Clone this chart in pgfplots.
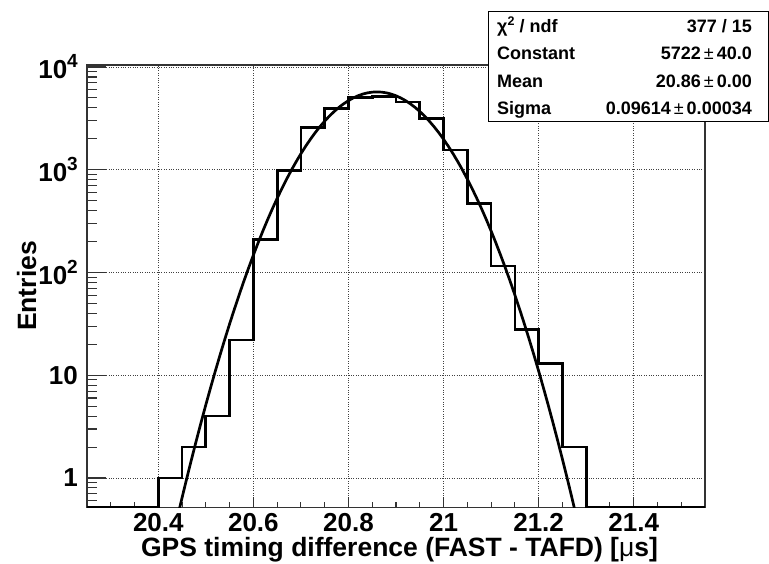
\documentclass[border=0pt]{standalone}
\usepackage{pgfplots}
\pgfplotsset{compat=1.18}
\usepackage{fontspec}
\setmainfont{Liberation Sans}
\newcommand{\sups}[1]{\raisebox{0.42em}{\fontsize{19}{19}\selectfont #1}}
\pgfplotstableread{
x y
20.25 0.516
20.30 0.516
20.35 0.516
20.40 1
20.45 2
20.50 4
20.55 22
20.60 210
20.65 980
20.70 2570
20.75 3960
20.80 5050
20.85 5200
20.90 4550
20.95 3140
21.00 1560
21.05 470
21.10 116
21.15 28
21.20 13
21.25 2
21.30 0.516
21.35 0.516
21.40 0.516
21.45 0.516
21.50 0.516
21.55 0.516
}\histdata
\pgfplotstableread{
x y
20.40 0.0611
20.41 0.1000
20.42 0.1619
20.43 0.2593
20.44 0.4106
20.45 0.6432
20.46 0.997
20.47 1.528
20.48 2.318
20.49 3.478
20.50 5.163
20.51 7.579
20.52 11.01
20.53 15.82
20.54 22.47
20.55 31.61
20.56 43.97
20.57 60.5
20.58 82.4
20.59 110.9
20.60 147.7
20.61 194.6
20.62 253.8
20.63 327.2
20.64 417.4
20.65 526.4
20.66 657.4
20.67 811.8
20.68 991.7
20.69 1198
20.70 1433
20.71 1694
20.72 1982
20.73 2294
20.74 2626
20.75 2974
20.76 3332
20.77 3692
20.78 4048
20.79 4390
20.80 4710
20.81 4996
20.82 5248
20.83 5450
20.84 5601
20.85 5691
20.86 5722
20.87 5691
20.88 5601
20.89 5450
20.90 5248
20.91 4996
20.92 4710
20.93 4390
20.94 4048
20.95 3692
20.96 3332
20.97 2974
20.98 2626
20.99 2294
21.00 1982
21.01 1694
21.02 1433
21.03 1198
21.04 991.7
21.05 811.8
21.06 657.4
21.07 526.4
21.08 417.4
21.09 327.2
21.10 253.8
21.11 194.6
21.12 147.7
21.13 110.9
21.14 82.4
21.15 60.5
21.16 43.97
21.17 31.61
21.18 22.47
21.19 15.82
21.20 11.01
21.21 7.579
21.22 5.163
21.23 3.478
21.24 2.318
21.25 1.528
21.26 0.997
21.27 0.6432
21.28 0.4106
21.29 0.2593
21.30 0.1619
21.31 0.1000
21.32 0.0611
}\fitdata
\begin{document}
\begin{tikzpicture}[x=1pt,y=1pt]
\useasboundingbox (0,0) rectangle (769,563);
\begin{axis}[
  at={(87pt,55.5pt)}, anchor=south west,
  scale only axis, width=618pt, height=442.5pt,
  xmin=20.25, xmax=21.55,
  ymode=log, ymin=0.516, ymax=10459,
  xtick={20.4,20.6,20.8,21.0,21.2,21.4},
  xticklabels={20.4,20.6,20.8,21,21.2,21.4},
  minor xtick={20.3,20.35,20.45,20.5,20.55,20.65,20.7,20.75,20.85,20.9,20.95,21.05,21.1,21.15,21.25,21.3,21.35,21.45,21.5},
  ytick={1,10,100,1000,10000},
  yticklabels={1,10,10\sups{2},10\sups{3},10\sups{4}},
  minor ytick={0.6,0.7,0.8,0.9,2,3,4,5,6,7,8,9,20,30,40,50,60,70,80,90,200,300,400,500,600,700,800,900,2000,3000,4000,5000,6000,7000,8000,9000},
  tick align=inside,
  xtick pos=bottom, ytick pos=left,
  xtick style={/pgfplots/major tick length=11pt,/pgfplots/minor tick length=6pt, line width=1.1pt, black!80},
  ytick style={/pgfplots/major tick length=19pt,/pgfplots/minor tick length=10pt, line width=1.1pt, black!80},
  xmajorgrids, ymajorgrids,
  grid style={dotted, black!75, line width=0.8pt},
  axis line style={black!80, line width=1.3pt},
  /pgf/number format/assume math mode=true,
  ticklabel style={font=\fontsize{26}{26}\selectfont\bfseries},
  xticklabel style={anchor=north, inner sep=0pt, yshift=-6pt},
  yticklabel style={anchor=east, inner sep=0pt, xshift=-9pt},
  xlabel={GPS timing difference (FAST - TAFD) [{\mdseries μ}s]},
  xlabel style={at={(axis description cs:0.5,0)}, anchor=base, yshift=-48.5pt, xshift=3.5pt, font=\fontsize{26.5}{26.5}\selectfont\bfseries},
]
\addplot[const plot, black, line width=2.7pt, line join=miter] table[x=x,y=y] {\histdata};
\addplot[black, line width=2.7pt, line join=round] table[x=x,y=y] {\fitdata};
\end{axis}
\node[rotate=90, anchor=base, inner sep=0pt, font=\fontsize{26.5}{26.5}\selectfont\bfseries] at (36,277) {Entries};
\draw[black, line width=1pt, fill=white] (488,441) rectangle (768,551);
\begin{scope}[every node/.style={font=\fontsize{18}{18}\selectfont\bfseries, inner sep=0pt}]
\node[anchor=base west] at (497,530.6) {χ\raisebox{0.4em}{\fontsize{12.5}{12.5}\selectfont 2} / ndf};
\node[anchor=base east] at (752,530.6) {377 / 15};
\node[anchor=base west] at (497,503.6) {Constant};
\node[anchor=base east] at (752,503.6) {5722\,{\mdseries ±}\,40.0};
\node[anchor=base west] at (497,475.6) {Mean};
\node[anchor=base east] at (752,475.6) {20.86\,{\mdseries ±}\,0.00};
\node[anchor=base west] at (497,448.6) {Sigma};
\node[anchor=base east] at (752,448.6) {0.09614\,{\mdseries ±}\,0.00034};
\end{scope}
\end{tikzpicture}
\end{document}
